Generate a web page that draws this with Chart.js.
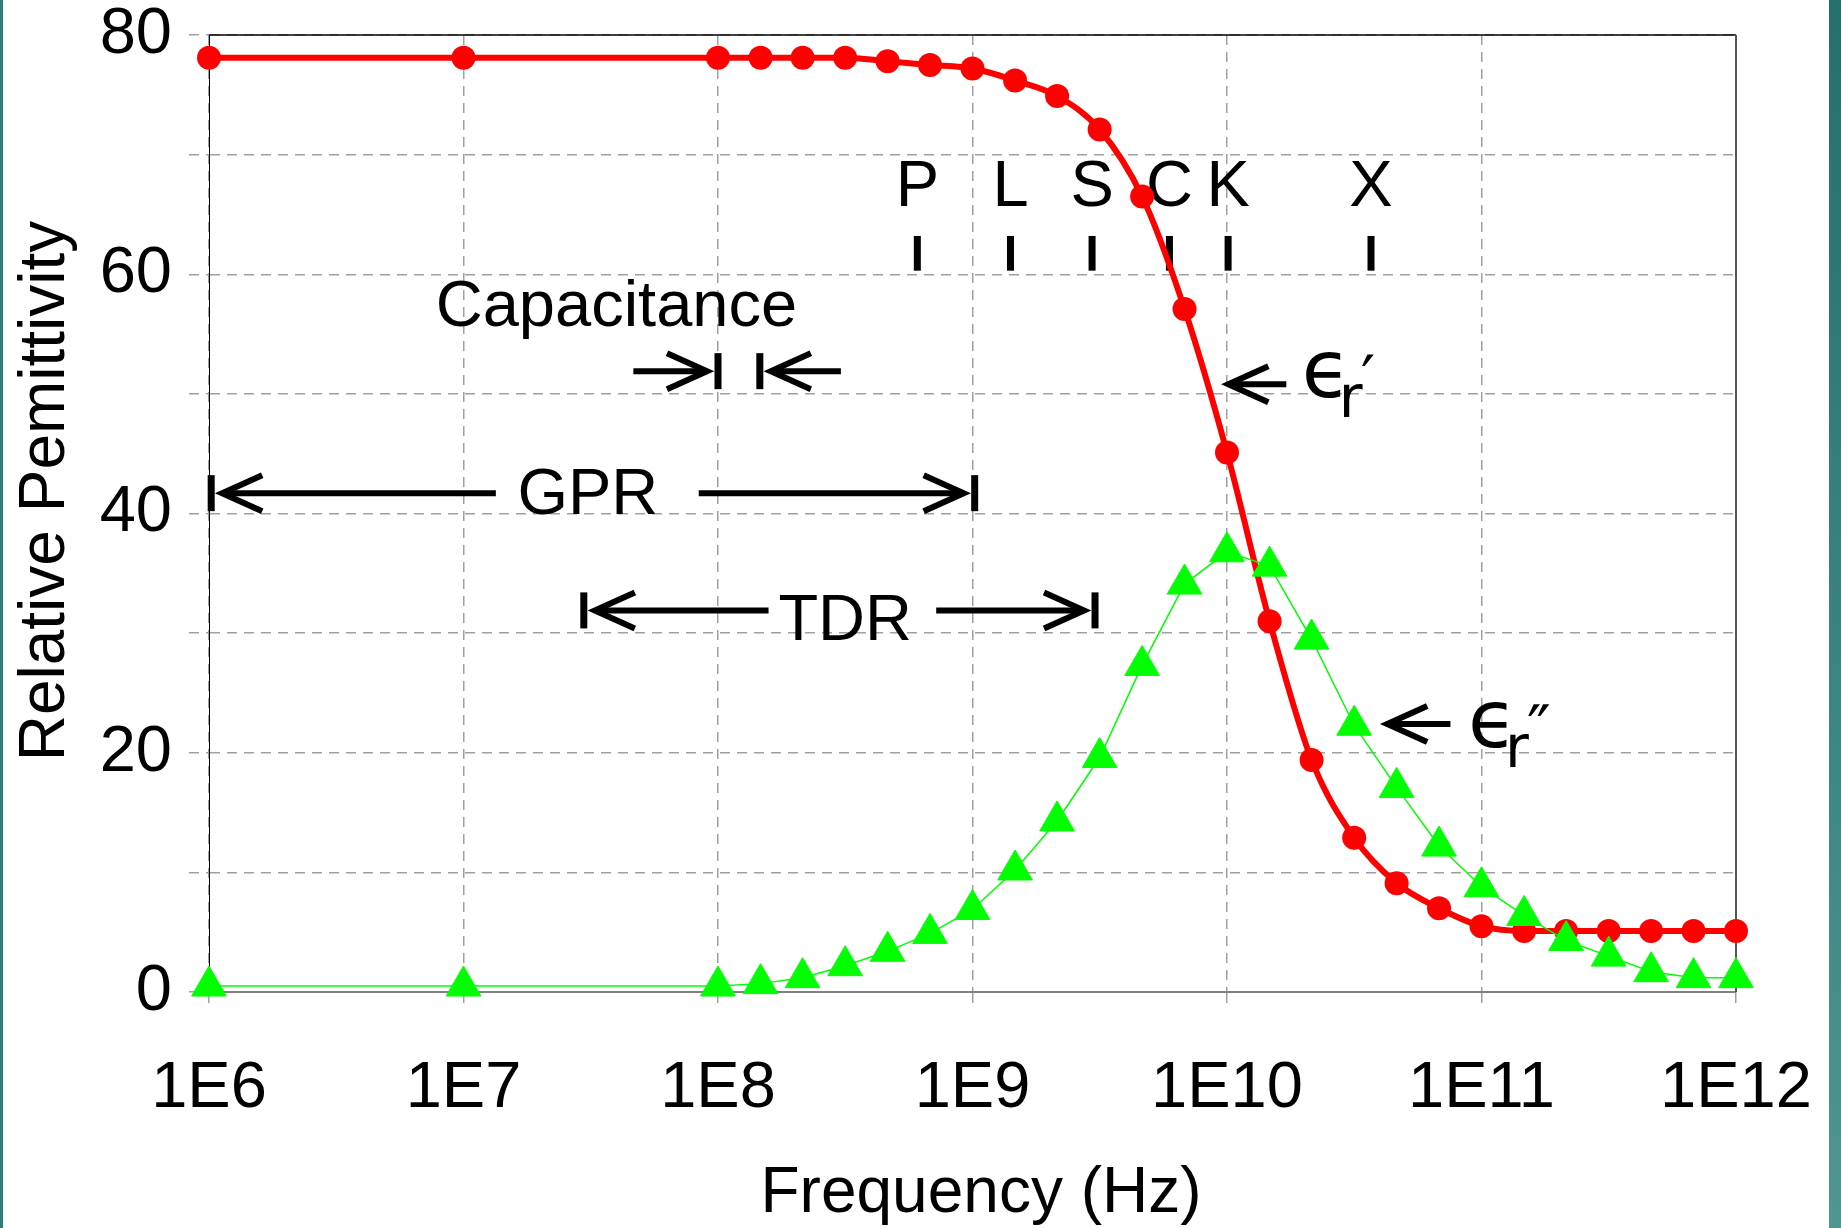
<!DOCTYPE html>
<html>
<head>
<meta charset="utf-8">
<script src="https://cdn.jsdelivr.net/npm/chart.js@4.4.1/dist/chart.umd.min.js"></script>
<style>
  html, body { margin: 0; padding: 0; background: #ffffff; overflow: hidden; }
  .slide { position: relative; width: 1841px; height: 1228px; }
  .edge-left { position: absolute; left: 0; top: 0; width: 3px; height: 100%; background: #2f7d7a; }
  .edge-right { position: absolute; right: 0; top: 0; width: 12px; height: 100%; background: linear-gradient(#24706d, #4f9592); }
</style>
</head>
<body>
<div class="slide">
  <canvas id="permittivity-chart" width="1841" height="1228"></canvas>
  <div class="edge-left"></div>
  <div class="edge-right"></div>
</div>
<script>
const frequency = [
  1e6, 1e7, 1e8, 1.47e8, 2.15e8, 3.16e8, 4.64e8, 6.81e8,
  1e9, 1.47e9, 2.15e9, 3.16e9, 4.64e9, 6.81e9,
  1e10, 1.47e10, 2.15e10, 3.16e10, 4.64e10, 6.81e10,
  1e11, 1.47e11, 2.15e11, 3.16e11, 4.64e11, 6.81e11, 1e12,
];
const realPart = [
  78.1, 78.1, 78.1, 78.1, 78.1, 78.1, 77.8, 77.5,
  77.2, 76.2, 74.9, 72.1, 66.5, 57.1,
  45.1, 31.0, 19.4, 12.9, 9.1, 7.0,
  5.5, 5.1, 5.1, 5.1, 5.1, 5.1, 5.1,
];
const imagPart = [
  0.5, 0.5, 0.5, 0.7, 1.2, 2.2, 3.4, 4.9,
  6.9, 10.2, 14.3, 19.6, 27.3, 34.1,
  36.8, 35.6, 29.5, 22.3, 17.1, 12.2,
  8.8, 6.4, 4.3, 3.0, 1.7, 1.2, 1.2,
];

const xTickValues = [1e6, 1e7, 1e8, 1e9, 1e10, 1e11, 1e12];
const xTickLabels = ["1E6", "1E7", "1E8", "1E9", "1E10", "1E11", "1E12"];
const yTickValues = [0, 10, 20, 30, 40, 50, 60, 70, 80];
const yTickLabels = ["0", "", "20", "", "40", "", "60", "", "80"];

// radar bands
const bandNames = ["P", "L", "S", "C", "K", "X"];
const bandFreq = [6.07e8, 1.41e9, 2.95e9, 5.94e9, 1.01e10, 3.68e10];
const bandTextLevel = 65.7;
const bandMarkLow = 60.3;
const bandMarkHigh = 63.2;

// measurement methods
const methodNames = ["GPR", "TDR", "Capacitance"];
const methodFreq = [3.08e7, 3.16e8, 3.99e7];
const methodLevel = [40.0, 29.4, 55.7];

const arrowTail = [1.34e7, 8.4e7, 1.58e8, 7.2e8, 4.65e7, 3.04e8, 1.71e10, 7.55e10];
const arrowTip = [1.02e6, 1.02e9, 2.97e7, 3.03e9, 1e8, 1.46e8, 9.5e9, 4.0e10];
const arrowLevel = [41.7, 41.7, 31.9, 31.9, 51.9, 51.9, 50.8, 22.4];
const arrowStop = [true, true, true, true, true, true, false, false];

// curve labels
const curvePrimes = ["\u2032", "\u2033"];
const curveLabelFreq = [2.04e10, 9.18e10];
const curveLabelLevel = [49.75, 20.5];

const Config = {
  colors: {
    real: "#ff0000",
    imag: "#00ff00",
    grid: "#a0a0a0",
    text: "#000000",
  },
  font: `"Liberation Sans", Arial, sans-serif`,
  greek: `"DejaVu Sans", sans-serif`,
  fontSize: 65,
  dash: [10, 7],
  area: { left: 209, top: 35, right: 105, bottom: 236 },
};

const drawArrow = (ctx, x0, x1, py, stop) => {
  const dir = Math.sign(x1 - x0);
  let tip = x1;
  if (stop) {
    ctx.fillRect(x1 - 3.5, py - 18, 7, 36);
    tip = x1 - dir * 11;
  } else {
    tip = x1 - dir * 7;
  }
  ctx.lineWidth = 6;
  ctx.lineJoin = "miter";
  ctx.beginPath();
  ctx.moveTo(x0, py);
  ctx.lineTo(tip - dir * 4, py);
  ctx.stroke();
  ctx.beginPath();
  ctx.moveTo(tip - dir * 40, py - 18);
  ctx.lineTo(tip, py);
  ctx.lineTo(tip - dir * 40, py + 18);
  ctx.stroke();
};

// keep the plot area where the slide has it, whatever the label overhang
const pinScale = (scale) => {
  scale.paddingLeft = 0;
  scale.paddingRight = 0;
  scale.paddingTop = 0;
  scale.paddingBottom = 0;
};

const overlay = {
  id: "overlay",
  beforeDatasetsDraw(chart) {
    const { ctx, chartArea: a, scales } = chart;
    const x = scales.x;
    const y = scales.y;
    ctx.save();

    // plot frame, top and right
    ctx.strokeStyle = "#000000";
    ctx.lineWidth = 1.5;
    ctx.beginPath();
    ctx.moveTo(a.left, a.top);
    ctx.lineTo(a.right, a.top);
    ctx.stroke();
    ctx.strokeStyle = "#555555";
    ctx.lineWidth = 2;
    ctx.beginPath();
    ctx.moveTo(a.right, a.top);
    ctx.lineTo(a.right, a.bottom);
    ctx.stroke();

    ctx.fillStyle = Config.colors.text;
    ctx.strokeStyle = Config.colors.text;
    ctx.font = `${Config.fontSize}px ${Config.font}`;
    ctx.textAlign = "center";
    ctx.textBaseline = "alphabetic";

    bandNames.forEach((name, i) => {
      const px = x.getPixelForValue(bandFreq[i]);
      ctx.fillText(name, px, y.getPixelForValue(bandTextLevel));
      const top = y.getPixelForValue(bandMarkHigh);
      ctx.fillRect(px - 3.5, top, 7, y.getPixelForValue(bandMarkLow) - top);
    });

    methodNames.forEach((name, i) => {
      ctx.fillText(name, x.getPixelForValue(methodFreq[i]), y.getPixelForValue(methodLevel[i]));
    });

    arrowTail.forEach((tail, i) => {
      drawArrow(ctx, x.getPixelForValue(tail), x.getPixelForValue(arrowTip[i]),
        y.getPixelForValue(arrowLevel[i]), arrowStop[i]);
    });

    ctx.textAlign = "left";
    curvePrimes.forEach((prime, i) => {
      const px = x.getPixelForValue(curveLabelFreq[i]);
      const py = y.getPixelForValue(curveLabelLevel[i]);
      ctx.font = `80px ${Config.greek}`;
      ctx.fillText("\u03f5", px - 4, py);
      ctx.font = `58px ${Config.greek}`;
      ctx.fillText("r", px + 33, py + 20);
      ctx.font = `64px ${Config.greek}`;
      ctx.fillText(prime, px + 55, py + 4);
    });

    ctx.restore();
  },
  afterDraw(chart) {
    const { ctx } = chart;
    ctx.save();
    ctx.fillStyle = Config.colors.text;
    ctx.textBaseline = "alphabetic";
    ctx.textAlign = "center";
    ctx.font = `64px ${Config.font}`;
    ctx.fillText("Frequency (Hz)", 981, 1212);
    ctx.translate(64, 491);
    ctx.rotate(-Math.PI / 2);
    ctx.font = `64px ${Config.font}`;
    ctx.fillText("Relative Pemittivity", 0, 0);
    ctx.restore();
  },
};

const points = (values) => frequency.map((f, i) => ({ x: f, y: values[i] }));

new Chart(document.getElementById("permittivity-chart"), {
  type: "line",
  data: {
    datasets: [
      {
        label: "\u03f5r\u2033",
        data: points(imagPart),
        borderColor: Config.colors.imag,
        borderWidth: 1.5,
        tension: 0,
        pointStyle: "triangle",
        pointRadius: 20,
        pointBackgroundColor: Config.colors.imag,
        pointBorderColor: Config.colors.imag,
        pointBorderWidth: 1,
        clip: false,
      },
      {
        label: "\u03f5r\u2032",
        data: points(realPart),
        borderColor: Config.colors.real,
        borderWidth: 6,
        cubicInterpolationMode: "monotone",
        pointRadius: 12,
        pointBackgroundColor: Config.colors.real,
        pointBorderWidth: 0,
        clip: false,
      },
    ],
  },
  options: {
    responsive: false,
    animation: false,
    layout: {
      padding: { top: Config.area.top, right: Config.area.right, bottom: 0, left: 0 },
    },
    scales: {
      x: {
        type: "logarithmic",
        min: 1e6,
        max: 1e12,
        afterBuildTicks: (scale) => {
          scale.ticks = xTickValues.map((v) => ({ value: v }));
        },
        afterFit: (scale) => {
          scale.height = Config.area.bottom;
          pinScale(scale);
        },
        ticks: {
          autoSkip: false,
          maxRotation: 0,
          padding: 49,
          color: Config.colors.text,
          font: { family: Config.font, size: Config.fontSize, lineHeight: 1 },
          callback: (value, index) => xTickLabels[index],
        },
        grid: {
          color: Config.colors.grid,
          lineWidth: 1.5,
          tickLength: 16,
          tickColor: Config.colors.grid,
          tickWidth: 1.5,
          tickBorderDash: Config.dash,
        },
        border: { color: "#808080", width: 2, dash: Config.dash },
      },
      y: {
        min: 0,
        max: 80,
        afterBuildTicks: (scale) => {
          scale.ticks = yTickValues.map((v) => ({ value: v }));
        },
        afterFit: (scale) => {
          scale.width = Config.area.left;
          pinScale(scale);
        },
        ticks: {
          padding: 17,
          color: Config.colors.text,
          font: { family: Config.font, size: Config.fontSize, lineHeight: 1 },
          callback: (value, index) => yTickLabels[index],
        },
        grid: {
          color: Config.colors.grid,
          lineWidth: 1.5,
          tickLength: 20,
          tickColor: Config.colors.grid,
          tickWidth: 1.5,
          tickBorderDash: Config.dash,
        },
        border: { color: "#000000", width: 1, dash: Config.dash },
      },
    },
    plugins: {
      legend: { display: false },
      tooltip: { enabled: false },
    },
  },
  plugins: [overlay],
});
</script>
</body>
</html>
